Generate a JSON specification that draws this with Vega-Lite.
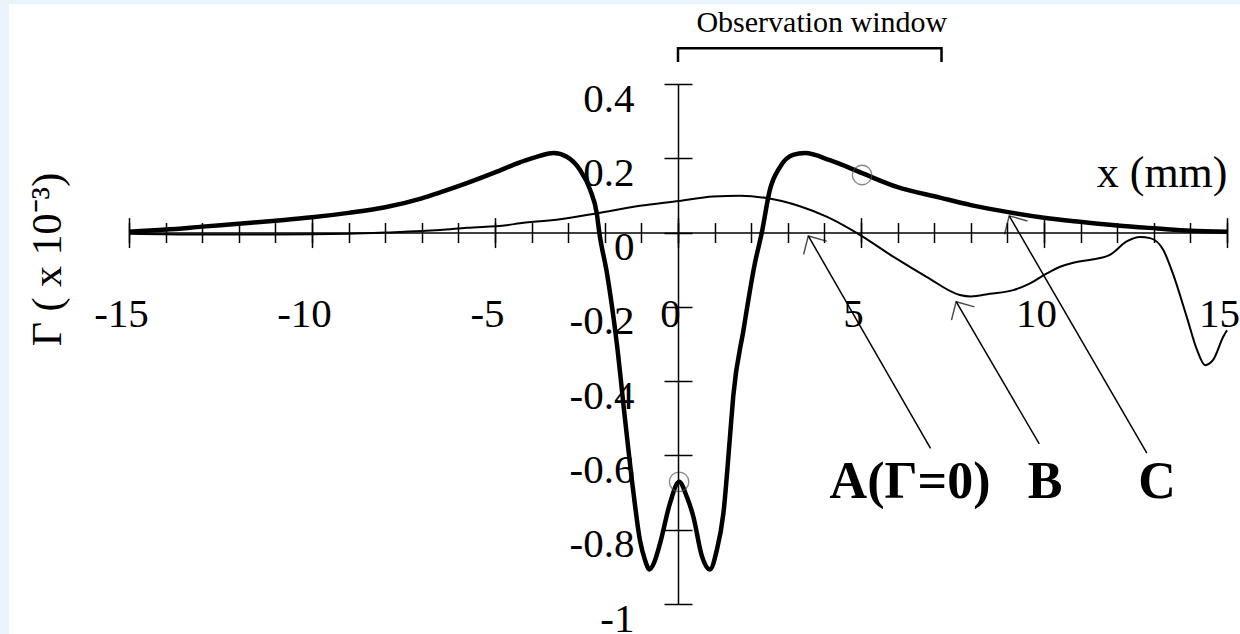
{
  "$schema": "https://vega.github.io/schema/vega-lite/v6.json",
  "width": 1098,
  "height": 520,
  "autosize": {"type": "none"},
  "padding": {"left": 129, "top": 84, "right": 13, "bottom": 30},
  "background": "#eaf4fd",
  "config": {
    "view": {"stroke": null},
    "axis": {
      "grid": false,
      "domainColor": "black",
      "tickColor": "black",
      "labelColor": "black",
      "titleColor": "black",
      "labelFont": "Liberation Serif",
      "titleFont": "Liberation Serif",
      "titleFontWeight": "normal",
      "labelFontSize": 41,
      "tickWidth": 1.5,
      "domainWidth": 1.5,
      "labelOverlap": false,
      "labelFlush": false,
      "labelBound": false,
      "format": "~g",
      "labelExpr": "replace(datum.label, '−', '-')"
    },
    "text": {"font": "Liberation Serif", "color": "black"}
  },
  "datasets": {
    "curves": [
      {"curve": "C", "x": -15, "g": 0.002},
      {"curve": "C", "x": -14, "g": 0.008},
      {"curve": "C", "x": -13, "g": 0.016},
      {"curve": "C", "x": -12, "g": 0.024},
      {"curve": "C", "x": -11, "g": 0.032},
      {"curve": "C", "x": -10, "g": 0.041},
      {"curve": "C", "x": -9, "g": 0.053},
      {"curve": "C", "x": -8, "g": 0.068},
      {"curve": "C", "x": -7, "g": 0.092},
      {"curve": "C", "x": -6.5, "g": 0.108},
      {"curve": "C", "x": -5.77, "g": 0.133},
      {"curve": "C", "x": -5, "g": 0.162},
      {"curve": "C", "x": -4.32, "g": 0.189},
      {"curve": "C", "x": -3.8, "g": 0.206},
      {"curve": "C", "x": -3.4, "g": 0.214},
      {"curve": "C", "x": -3.04, "g": 0.204},
      {"curve": "C", "x": -2.68, "g": 0.169},
      {"curve": "C", "x": -2.4, "g": 0.115},
      {"curve": "C", "x": -2.22, "g": 0.052},
      {"curve": "C", "x": -2.15, "g": 0.0},
      {"curve": "C", "x": -1.94, "g": -0.11},
      {"curve": "C", "x": -1.67, "g": -0.3},
      {"curve": "C", "x": -1.45, "g": -0.5},
      {"curve": "C", "x": -1.23, "g": -0.69},
      {"curve": "C", "x": -1.04, "g": -0.828},
      {"curve": "C", "x": -0.9, "g": -0.882},
      {"curve": "C", "x": -0.78, "g": -0.907},
      {"curve": "C", "x": -0.65, "g": -0.888},
      {"curve": "C", "x": -0.49, "g": -0.837},
      {"curve": "C", "x": -0.22, "g": -0.729},
      {"curve": "C", "x": 0.03, "g": -0.671},
      {"curve": "C", "x": 0.24, "g": -0.711},
      {"curve": "C", "x": 0.42, "g": -0.765},
      {"curve": "C", "x": 0.65, "g": -0.87},
      {"curve": "C", "x": 0.87, "g": -0.907},
      {"curve": "C", "x": 1.06, "g": -0.855},
      {"curve": "C", "x": 1.24, "g": -0.756},
      {"curve": "C", "x": 1.42, "g": -0.55},
      {"curve": "C", "x": 1.51, "g": -0.44},
      {"curve": "C", "x": 1.79, "g": -0.262},
      {"curve": "C", "x": 2.1, "g": -0.083},
      {"curve": "C", "x": 2.29, "g": 0.0},
      {"curve": "C", "x": 2.51, "g": 0.115},
      {"curve": "C", "x": 2.79, "g": 0.177},
      {"curve": "C", "x": 3.14, "g": 0.209},
      {"curve": "C", "x": 3.47, "g": 0.214},
      {"curve": "C", "x": 4.15, "g": 0.195},
      {"curve": "C", "x": 5.03, "g": 0.16},
      {"curve": "C", "x": 5.98, "g": 0.123},
      {"curve": "C", "x": 7.16, "g": 0.094},
      {"curve": "C", "x": 8, "g": 0.074},
      {"curve": "C", "x": 9.02, "g": 0.055},
      {"curve": "C", "x": 10, "g": 0.04},
      {"curve": "C", "x": 10.98, "g": 0.029},
      {"curve": "C", "x": 12, "g": 0.019},
      {"curve": "C", "x": 13.1, "g": 0.011},
      {"curve": "C", "x": 14, "g": 0.005},
      {"curve": "C", "x": 15, "g": 0.002},
      {"curve": "B", "x": -15, "g": -0.003},
      {"curve": "B", "x": -13, "g": -0.005},
      {"curve": "B", "x": -11, "g": -0.005},
      {"curve": "B", "x": -9, "g": -0.003},
      {"curve": "B", "x": -8, "g": 0.0},
      {"curve": "B", "x": -7, "g": 0.004},
      {"curve": "B", "x": -6.5, "g": 0.007},
      {"curve": "B", "x": -5.77, "g": 0.013},
      {"curve": "B", "x": -4.68, "g": 0.02},
      {"curve": "B", "x": -4.32, "g": 0.025},
      {"curve": "B", "x": -3.22, "g": 0.036},
      {"curve": "B", "x": -2.21, "g": 0.052},
      {"curve": "B", "x": -1.04, "g": 0.072},
      {"curve": "B", "x": 0.03, "g": 0.085},
      {"curve": "B", "x": 0.96, "g": 0.097},
      {"curve": "B", "x": 1.7, "g": 0.099},
      {"curve": "B", "x": 2.42, "g": 0.093},
      {"curve": "B", "x": 3.33, "g": 0.071},
      {"curve": "B", "x": 4.06, "g": 0.043},
      {"curve": "B", "x": 4.97, "g": -0.006},
      {"curve": "B", "x": 5.88, "g": -0.065},
      {"curve": "B", "x": 6.79, "g": -0.119},
      {"curve": "B", "x": 7.7, "g": -0.168},
      {"curve": "B", "x": 8.0, "g": -0.172},
      {"curve": "B", "x": 8.52, "g": -0.165},
      {"curve": "B", "x": 9.16, "g": -0.155},
      {"curve": "B", "x": 9.62, "g": -0.137},
      {"curve": "B", "x": 10.08, "g": -0.11},
      {"curve": "B", "x": 10.44, "g": -0.092},
      {"curve": "B", "x": 10.8, "g": -0.081},
      {"curve": "B", "x": 11.35, "g": -0.072},
      {"curve": "B", "x": 11.8, "g": -0.06},
      {"curve": "B", "x": 12.26, "g": -0.024},
      {"curve": "B", "x": 12.62, "g": -0.012},
      {"curve": "B", "x": 12.9, "g": -0.015},
      {"curve": "B", "x": 13.26, "g": -0.047},
      {"curve": "B", "x": 13.52, "g": -0.11},
      {"curve": "B", "x": 13.9, "g": -0.227},
      {"curve": "B", "x": 14.18, "g": -0.316},
      {"curve": "B", "x": 14.4, "g": -0.357},
      {"curve": "B", "x": 14.62, "g": -0.343},
      {"curve": "B", "x": 14.9, "g": -0.28},
      {"curve": "B", "x": 15, "g": -0.263}
    ],
    "bracket": [
      {"i": 1, "x": 0, "g": 0.459},
      {"i": 2, "x": 0, "g": 0.496},
      {"i": 3, "x": 7.2, "g": 0.496},
      {"i": 4, "x": 7.2, "g": 0.459}
    ],
    "circles": [
      {"x": 0.03, "g": -0.671},
      {"x": 5.03, "g": 0.155}
    ],
    "arrows": [
      {"label": "A", "x": 3.56, "g": -0.009, "x2": 6.9, "g2": -0.581},
      {"label": "B", "x": 7.6, "g": -0.186, "x2": 9.87, "g2": -0.569},
      {"label": "C", "x": 9.05, "g": 0.045, "x2": 12.81, "g2": -0.594}
    ],
    "notes": [
      {"text": "A(Γ=0)", "x": 6.34, "g": -0.714},
      {"text": "B", "x": 10.03, "g": -0.714},
      {"text": "C", "x": 13.09, "g": -0.714}
    ],
    "window": [
      {"text": "Observation window", "x": 3.93, "g": 0.54}
    ]
  },
  "resolve": {"axis": {"x": "independent", "y": "independent"}},
  "layer": [
    {
      "data": {"values": [{}]},
      "mark": {"type": "rect", "color": "white"},
      "encoding": {
        "x": {"datum": -18.28, "type": "quantitative", "scale": {"domain": [-15, 15], "nice": false, "zero": false}, "axis": null},
        "x2": {"datum": 16.5},
        "y": {"datum": 0.615, "type": "quantitative", "scale": {"domain": [-1, 0.4], "nice": false, "zero": false}, "axis": null},
        "y2": {"datum": -1.3}
      }
    },
    {
      "data": {"name": "curves"},
      "mark": {"type": "line", "color": "black", "interpolate": "monotone"},
      "encoding": {
        "x": {
          "field": "x", "type": "quantitative",
          "scale": {"domain": [-15, 15], "nice": false, "zero": false},
          "axis": {
            "zindex": 1,
            "orient": "bottom", "offset": -371.43,
            "values": [-15, -14, -13, -12, -11, -10, -9, -8, -7, -6, -5, -4, -3, -2, -1, 0, 1, 2, 3, 4, 5, 6, 7, 8, 9, 10, 11, 12, 13, 14, 15],
            "tickSize": 10, "labels": false, "domain": true, "title": null
          }
        },
        "y": {
          "field": "g", "type": "quantitative",
          "scale": {"domain": [-1, 0.4], "nice": false, "zero": false},
          "axis": {
            "zindex": 1,
            "orient": "left", "offset": -549,
            "values": [0.4, 0.2, 0, -0.2, -0.4, -0.6, -0.8, -1],
            "tickSize": 14, "labelPadding": 30, "labelOffset": 27,
            "labelAlign": "right", "labelBaseline": "alphabetic",
            "domain": true,
            "title": "Γ ( x 10⁻³)", "titleAngle": 270,
            "titleX": -618, "titleY": 175,
            "titleAlign": "center", "titleBaseline": "alphabetic",
            "titleFontSize": 42
          }
        },
        "detail": {"field": "curve"},
        "strokeWidth": {"field": "curve", "type": "nominal", "scale": {"domain": ["B", "C"], "range": [2, 4.5]}, "legend": null}
      }
    },
    {
      "data": {"name": "bracket"},
      "mark": {"type": "line", "color": "black", "strokeWidth": 2.5},
      "encoding": {
        "x": {
          "field": "x", "type": "quantitative",
          "scale": {"domain": [-15, 15], "nice": false, "zero": false},
          "axis": {
            "zindex": 1,
            "orient": "top", "offset": -148.57,
            "values": [-15, -14, -13, -12, -11, -10, -9, -8, -7, -6, -5, -4, -3, -2, -1, 0, 1, 2, 3, 4, 5, 6, 7, 8, 9, 10, 11, 12, 13, 14, 15],
            "tickSize": 10, "labels": false, "domain": false, "title": null
          }
        },
        "y": {
          "field": "g", "type": "quantitative",
          "scale": {"domain": [-1, 0.4], "nice": false, "zero": false},
          "axis": {
            "zindex": 1,
            "orient": "right", "offset": -549,
            "values": [0.4, 0.2, 0, -0.2, -0.4, -0.6, -0.8, -1],
            "tickSize": 14, "labels": false, "domain": false, "title": null
          }
        },
        "order": {"field": "i", "type": "quantitative"}
      }
    },
    {
      "data": {"name": "circles"},
      "mark": {"type": "point", "shape": "circle", "filled": false, "size": 380, "stroke": "#555555", "strokeWidth": 1.3},
      "encoding": {
        "x": {
          "field": "x", "type": "quantitative",
          "scale": {"domain": [-15, 15], "nice": false, "zero": false},
          "axis": {
            "zindex": 1,
            "orient": "bottom", "offset": -371.43,
            "values": [-15, -10, -5, 0, 5, 10, 15],
            "tickSize": 15, "labelPadding": 79, "labelOffset": -8,
            "labelAlign": "center", "labelBaseline": "alphabetic",
            "domain": false,
            "title": "x (mm)", "titleX": 1098, "titleY": -45.6,
            "titleAlign": "right", "titleBaseline": "alphabetic",
            "titleAngle": 0, "titleFontSize": 44
          }
        },
        "y": {"field": "g", "type": "quantitative", "scale": {"domain": [-1, 0.4], "nice": false, "zero": false}, "axis": null}
      }
    },
    {
      "data": {"name": "arrows"},
      "mark": {"type": "rule", "color": "black", "strokeWidth": 1.5},
      "encoding": {
        "x": {
          "field": "x", "type": "quantitative",
          "scale": {"domain": [-15, 15], "nice": false, "zero": false},
          "axis": {
            "zindex": 1,
            "orient": "top", "offset": -148.57,
            "values": [-15, -10, -5, 0, 5, 10, 15],
            "tickSize": 15, "labels": false, "domain": false, "title": null
          }
        },
        "y": {"field": "g", "type": "quantitative", "scale": {"domain": [-1, 0.4], "nice": false, "zero": false}, "axis": null},
        "x2": {"field": "x2"},
        "y2": {"field": "g2"}
      }
    },
    {
      "data": {"name": "arrows"},
      "mark": {"type": "point", "shape": "M-0.7,0.72L0,0L0.7,0.72", "filled": false, "size": 1444, "angle": -30, "stroke": "black", "strokeWidth": 1.5},
      "encoding": {
        "x": {"field": "x", "type": "quantitative", "scale": {"domain": [-15, 15], "nice": false, "zero": false}, "axis": null},
        "y": {"field": "g", "type": "quantitative", "scale": {"domain": [-1, 0.4], "nice": false, "zero": false}, "axis": null}
      }
    },
    {
      "data": {"name": "notes"},
      "mark": {"type": "text", "fontSize": 52, "fontWeight": "bold", "align": "center", "baseline": "alphabetic"},
      "encoding": {
        "x": {"field": "x", "type": "quantitative", "scale": {"domain": [-15, 15], "nice": false, "zero": false}, "axis": null},
        "y": {"field": "g", "type": "quantitative", "scale": {"domain": [-1, 0.4], "nice": false, "zero": false}, "axis": null},
        "text": {"field": "text"}
      }
    },
    {
      "data": {"name": "window"},
      "mark": {"type": "text", "fontSize": 30, "align": "center", "baseline": "alphabetic"},
      "encoding": {
        "x": {"field": "x", "type": "quantitative", "scale": {"domain": [-15, 15], "nice": false, "zero": false}, "axis": null},
        "y": {"field": "g", "type": "quantitative", "scale": {"domain": [-1, 0.4], "nice": false, "zero": false}, "axis": null},
        "text": {"field": "text"}
      }
    }
  ]
}
